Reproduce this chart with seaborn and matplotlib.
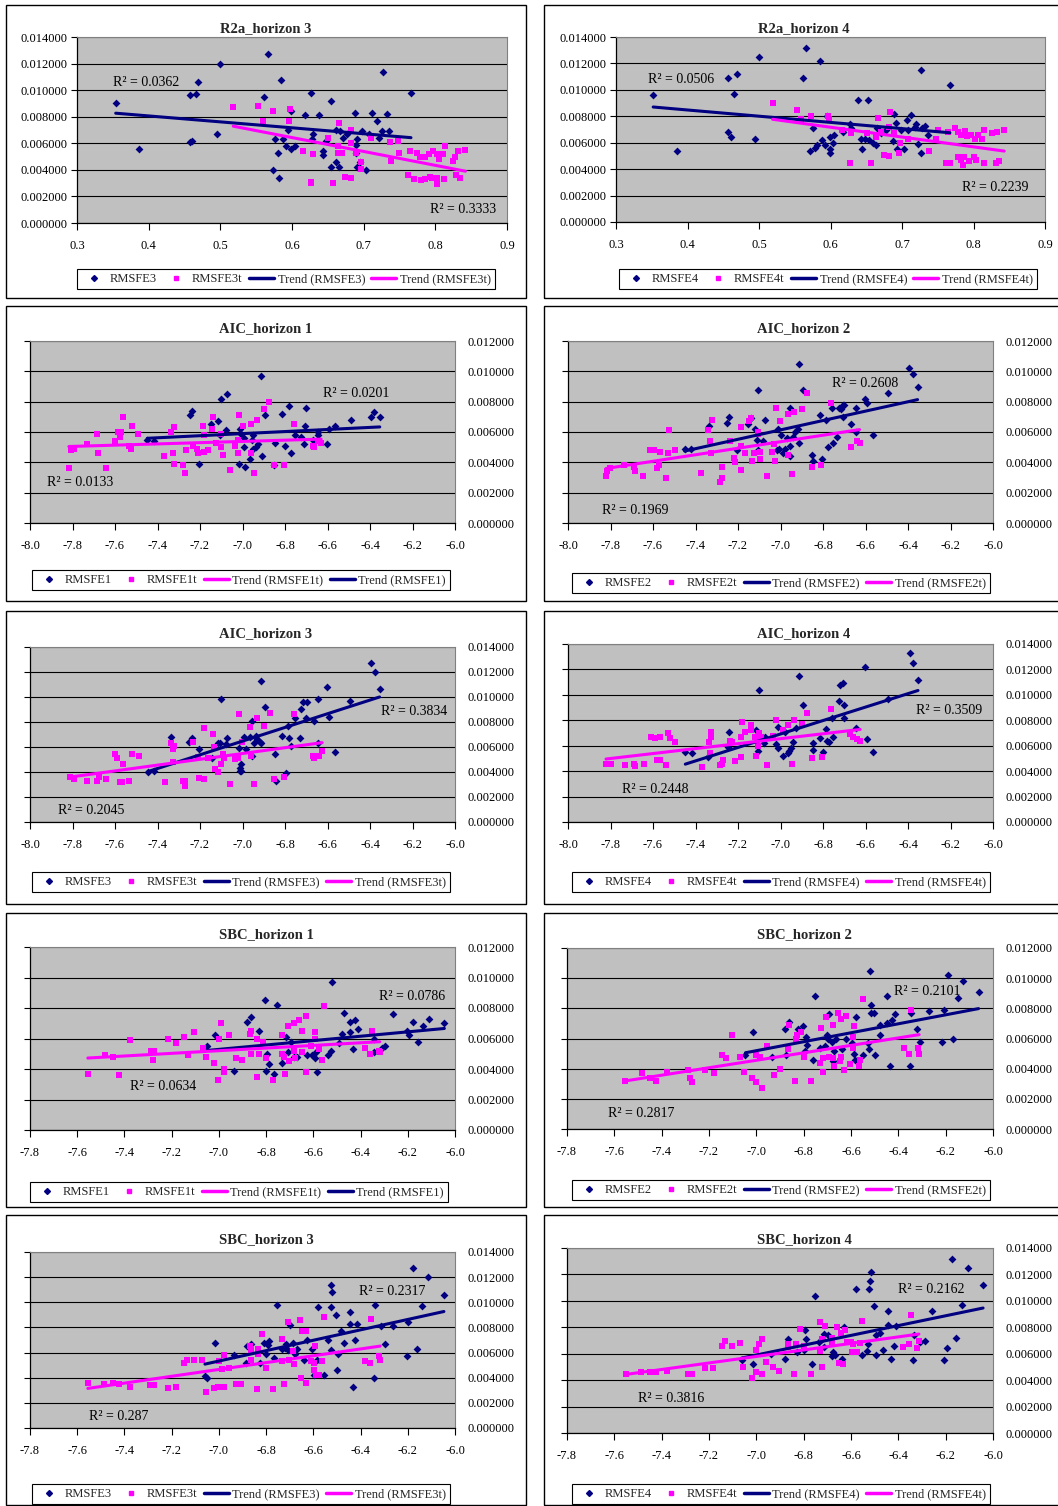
import numpy as np
import pandas as pd
import matplotlib
matplotlib.use('Agg')
import matplotlib.pyplot as plt
import seaborn as sns
from matplotlib.lines import Line2D
from matplotlib.patches import Rectangle
from matplotlib.ticker import FormatStrFormatter, MultipleLocator

W, H = 1058, 1506

# ---- data: (x, RMSFE) ----
r2a_h3 = [(0.354, 0.0090), (0.386, 0.0056), (0.458, 0.0096), (0.466, 0.0097), (0.469, 0.0106),
          (0.457, 0.0061), (0.461, 0.0062), (0.495, 0.0067), (0.500, 0.0120), (0.566, 0.0127),
          (0.561, 0.0095), (0.585, 0.0108), (0.627, 0.0098), (0.654, 0.0092), (0.599, 0.0084),
          (0.618, 0.0081), (0.638, 0.0081), (0.595, 0.0070), (0.576, 0.0063), (0.587, 0.0063),
          (0.591, 0.0058), (0.599, 0.0056), (0.604, 0.0058), (0.580, 0.0053), (0.573, 0.0040),
          (0.582, 0.0034), (0.629, 0.0067), (0.628, 0.0063), (0.643, 0.0054), (0.643, 0.0051),
          (0.648, 0.0062), (0.662, 0.0070), (0.667, 0.0069), (0.671, 0.0064), (0.677, 0.0067),
          (0.688, 0.0083), (0.689, 0.0059), (0.691, 0.0063), (0.689, 0.0053), (0.697, 0.0069),
          (0.707, 0.0067), (0.712, 0.0083), (0.718, 0.0077), (0.726, 0.0069), (0.722, 0.0064),
          (0.732, 0.0082), (0.735, 0.0069), (0.727, 0.0114), (0.766, 0.0098), (0.654, 0.0042),
          (0.662, 0.0046), (0.665, 0.0042), (0.691, 0.0042), (0.703, 0.0040), (0.695, 0.0046)]
r2a_h3t = [(0.518, 0.0087), (0.553, 0.0088), (0.573, 0.0084), (0.559, 0.0077), (0.597, 0.0086),
           (0.596, 0.0077), (0.616, 0.0054), (0.629, 0.0052), (0.626, 0.0031), (0.626, 0.0030),
           (0.657, 0.0030), (0.650, 0.0064), (0.665, 0.0075), (0.664, 0.0058), (0.670, 0.0053),
           (0.664, 0.0053), (0.674, 0.0035), (0.682, 0.0034), (0.683, 0.0070), (0.682, 0.0060),
           (0.689, 0.0053), (0.696, 0.0046), (0.696, 0.0041), (0.710, 0.0064), (0.737, 0.0061),
           (0.748, 0.0062), (0.738, 0.0047), (0.749, 0.0053), (0.764, 0.0054), (0.774, 0.0053),
           (0.778, 0.0050), (0.785, 0.0050), (0.791, 0.0052), (0.797, 0.0054), (0.803, 0.0052),
           (0.805, 0.0048), (0.810, 0.0052), (0.814, 0.0058), (0.825, 0.0047), (0.827, 0.0050),
           (0.831, 0.0054), (0.842, 0.0055), (0.762, 0.0036), (0.770, 0.0033), (0.780, 0.0032),
           (0.785, 0.0033), (0.792, 0.0035), (0.796, 0.0034), (0.802, 0.0029), (0.803, 0.0034),
           (0.812, 0.0033), (0.829, 0.0036), (0.834, 0.0034)]

r2a_h4 = [(0.352, 0.0096), (0.385, 0.0054), (0.457, 0.0109), (0.469, 0.0112), (0.465, 0.0097),
          (0.457, 0.0068), (0.461, 0.0064), (0.495, 0.0063), (0.500, 0.0125), (0.566, 0.0132),
          (0.561, 0.0109), (0.585, 0.0122), (0.638, 0.0092), (0.653, 0.0092), (0.595, 0.0080),
          (0.575, 0.0071), (0.572, 0.0054), (0.579, 0.0056), (0.581, 0.0058), (0.588, 0.0062),
          (0.592, 0.0058), (0.599, 0.0064), (0.605, 0.0066), (0.604, 0.0060), (0.599, 0.0055),
          (0.599, 0.0052), (0.617, 0.0068), (0.627, 0.0074), (0.628, 0.0071), (0.642, 0.0063),
          (0.648, 0.0063), (0.654, 0.0062), (0.644, 0.0055), (0.660, 0.0060), (0.664, 0.0058),
          (0.665, 0.0071), (0.671, 0.0067), (0.678, 0.0070), (0.689, 0.0082), (0.691, 0.0075),
          (0.688, 0.0061), (0.693, 0.0055), (0.699, 0.0070), (0.703, 0.0055), (0.707, 0.0077),
          (0.709, 0.0070), (0.712, 0.0081), (0.718, 0.0072), (0.720, 0.0074), (0.722, 0.0059),
          (0.726, 0.0052), (0.728, 0.0071), (0.732, 0.0073), (0.727, 0.0115), (0.736, 0.0066),
          (0.767, 0.0104)]
r2a_h4t = [(0.519, 0.0090), (0.553, 0.0085), (0.559, 0.0078), (0.573, 0.0080), (0.596, 0.0080),
           (0.598, 0.0078), (0.616, 0.0070), (0.627, 0.0045), (0.629, 0.0067), (0.657, 0.0045),
           (0.651, 0.0067), (0.666, 0.0079), (0.664, 0.0064), (0.670, 0.0068), (0.675, 0.0051),
           (0.682, 0.0050), (0.683, 0.0083), (0.682, 0.0072), (0.689, 0.0067), (0.696, 0.0052),
           (0.697, 0.0060), (0.709, 0.0063), (0.738, 0.0054), (0.748, 0.0063), (0.750, 0.0070),
           (0.761, 0.0045), (0.767, 0.0045), (0.765, 0.0068), (0.774, 0.0071), (0.778, 0.0068),
           (0.782, 0.0066), (0.788, 0.0069), (0.791, 0.0065), (0.797, 0.0066), (0.802, 0.0063),
           (0.806, 0.0066), (0.812, 0.0063), (0.815, 0.0070), (0.826, 0.0067), (0.833, 0.0068),
           (0.843, 0.0070), (0.778, 0.0049), (0.782, 0.0047), (0.787, 0.0049), (0.786, 0.0043),
           (0.794, 0.0046), (0.801, 0.0049), (0.804, 0.0047), (0.814, 0.0045), (0.831, 0.0045),
           (0.835, 0.0046)]

aic_h1 = [(-7.448, 0.0055), (-7.417, 0.0054), (-7.249, 0.0071), (-7.238, 0.0074), (-7.205, 0.0039),
          (-7.149, 0.0065), (-7.113, 0.0067), (-7.100, 0.0082), (-7.072, 0.0085), (-7.080, 0.0061),
          (-7.105, 0.0058), (-7.014, 0.0062), (-7.006, 0.0059), (-6.995, 0.0056), (-6.994, 0.0050),
          (-7.017, 0.0039), (-6.987, 0.0037), (-6.951, 0.0058), (-6.956, 0.0055), (-6.964, 0.0042),
          (-6.950, 0.0049), (-6.937, 0.0050), (-6.928, 0.0052), (-6.909, 0.0044), (-6.914, 0.0097),
          (-6.892, 0.0071), (-6.845, 0.0053), (-6.812, 0.0072), (-6.798, 0.0051), (-6.781, 0.0077),
          (-6.773, 0.0046), (-6.755, 0.0058), (-6.724, 0.0057), (-6.712, 0.0052), (-6.705, 0.0064),
          (-6.701, 0.0076), (-6.669, 0.0055), (-6.646, 0.0060), (-6.647, 0.0058), (-6.602, 0.0052),
          (-6.592, 0.0062), (-6.564, 0.0064), (-6.491, 0.0068), (-6.395, 0.0070), (-6.379, 0.0073),
          (-6.354, 0.0070), (-6.853, 0.0038)]
aic_h1t = [(-7.817, 0.0036), (-7.806, 0.0048), (-7.795, 0.0049), (-7.732, 0.0052), (-7.685, 0.0059),
           (-7.680, 0.0046), (-7.643, 0.0036), (-7.602, 0.0054), (-7.588, 0.0060), (-7.571, 0.0060),
           (-7.578, 0.0057), (-7.564, 0.0070), (-7.534, 0.0051), (-7.527, 0.0049), (-7.520, 0.0064),
           (-7.492, 0.0059), (-7.368, 0.0044), (-7.337, 0.0060), (-7.323, 0.0063), (-7.329, 0.0046),
           (-7.323, 0.0039), (-7.282, 0.0038), (-7.270, 0.0033), (-7.268, 0.0048), (-7.235, 0.0051),
           (-7.213, 0.0049), (-7.210, 0.0046), (-7.185, 0.0064), (-7.180, 0.0058), (-7.182, 0.0047),
           (-7.163, 0.0048), (-7.143, 0.0062), (-7.138, 0.0070), (-7.124, 0.0053), (-7.103, 0.0059),
           (-7.100, 0.0050), (-7.092, 0.0045), (-7.060, 0.0035), (-7.034, 0.0051), (-7.023, 0.0046),
           (-7.017, 0.0071), (-7.000, 0.0064), (-7.023, 0.0055), (-6.962, 0.0046), (-6.961, 0.0065),
           (-6.947, 0.0033), (-6.931, 0.0068), (-6.900, 0.0075), (-6.873, 0.0080), (-6.853, 0.0038),
           (-6.806, 0.0038), (-6.759, 0.0065), (-6.666, 0.0051), (-6.664, 0.0050), (-6.643, 0.0054),
           (-6.630, 0.0053)]

aic_h2 = [(-7.451, 0.0049), (-7.421, 0.0049), (-7.338, 0.0064), (-7.250, 0.0066), (-7.242, 0.0070),
          (-7.207, 0.0048), (-7.154, 0.0065), (-7.141, 0.0069), (-7.118, 0.0062), (-7.105, 0.0088),
          (-7.110, 0.0055), (-7.105, 0.0048), (-7.082, 0.0054), (-7.074, 0.0068), (-7.014, 0.0062),
          (-6.998, 0.0058), (-7.016, 0.0048), (-7.006, 0.0049), (-6.987, 0.0046), (-6.980, 0.0049),
          (-6.956, 0.0076), (-6.969, 0.0056), (-6.953, 0.0051), (-6.955, 0.0044), (-6.942, 0.0057),
          (-6.933, 0.0060), (-6.920, 0.0062), (-6.912, 0.0053), (-6.915, 0.0105), (-6.896, 0.0088),
          (-6.851, 0.0045), (-6.849, 0.0041), (-6.804, 0.0042), (-6.813, 0.0071), (-6.785, 0.0068),
          (-6.777, 0.0050), (-6.755, 0.0053), (-6.760, 0.0076), (-6.735, 0.0057), (-6.725, 0.0076),
          (-6.713, 0.0075), (-6.706, 0.0078), (-6.700, 0.0078), (-6.705, 0.0070), (-6.670, 0.0065),
          (-6.647, 0.0076), (-6.645, 0.0060), (-6.603, 0.0082), (-6.595, 0.0079), (-6.565, 0.0058),
          (-6.493, 0.0086), (-6.394, 0.0102), (-6.375, 0.0098), (-6.355, 0.0090)]
aic_h2t = [(-7.821, 0.0031), (-7.815, 0.0034), (-7.804, 0.0036), (-7.736, 0.0038), (-7.684, 0.0034),
           (-7.689, 0.0037), (-7.645, 0.0031), (-7.612, 0.0048), (-7.597, 0.0048), (-7.568, 0.0047),
           (-7.581, 0.0036), (-7.571, 0.0038), (-7.539, 0.0030), (-7.529, 0.0046), (-7.524, 0.0061),
           (-7.496, 0.0048), (-7.374, 0.0033), (-7.342, 0.0061), (-7.333, 0.0054), (-7.328, 0.0046),
           (-7.323, 0.0068), (-7.287, 0.0027), (-7.273, 0.0030), (-7.273, 0.0037), (-7.240, 0.0054),
           (-7.218, 0.0043), (-7.213, 0.0040), (-7.187, 0.0035), (-7.188, 0.0051), (-7.184, 0.0063),
           (-7.166, 0.0046), (-7.146, 0.0067), (-7.141, 0.0069), (-7.133, 0.0041), (-7.124, 0.0046),
           (-7.108, 0.0060), (-7.105, 0.0059), (-7.097, 0.0042), (-7.096, 0.0047), (-7.064, 0.0031),
           (-7.039, 0.0047), (-7.027, 0.0041), (-7.030, 0.0052), (-7.022, 0.0076), (-7.003, 0.0067),
           (-6.964, 0.0045), (-6.965, 0.0072), (-6.948, 0.0032), (-6.936, 0.0073), (-6.901, 0.0075),
           (-6.874, 0.0086), (-6.854, 0.0037), (-6.808, 0.0038), (-6.763, 0.0079), (-6.669, 0.0050),
           (-6.641, 0.0054), (-6.628, 0.0053)]

aic_h3 = [(-7.445, 0.0040), (-7.416, 0.0041), (-7.336, 0.0068), (-7.239, 0.0067), (-7.250, 0.0064),
          (-7.203, 0.0058), (-7.145, 0.0051), (-7.113, 0.0063), (-7.105, 0.0063), (-7.100, 0.0098),
          (-7.072, 0.0067), (-7.078, 0.0062), (-7.016, 0.0059), (-7.011, 0.0043), (-7.006, 0.0041),
          (-7.014, 0.0041), (-7.009, 0.0046), (-6.994, 0.0068), (-6.984, 0.0058), (-6.966, 0.0068),
          (-6.953, 0.0081), (-6.953, 0.0053), (-6.945, 0.0063), (-6.937, 0.0069), (-6.930, 0.0066),
          (-6.919, 0.0064), (-6.911, 0.0063), (-6.911, 0.0113), (-6.892, 0.0092), (-6.847, 0.0054),
          (-6.844, 0.0033), (-6.813, 0.0069), (-6.797, 0.0039), (-6.784, 0.0077), (-6.781, 0.0067),
          (-6.770, 0.0061), (-6.753, 0.0083), (-6.731, 0.0067), (-6.727, 0.0090), (-6.714, 0.0096),
          (-6.698, 0.0096), (-6.703, 0.0083), (-6.664, 0.0081), (-6.644, 0.0098), (-6.644, 0.0063),
          (-6.602, 0.0108), (-6.594, 0.0084), (-6.564, 0.0056), (-6.492, 0.0097), (-6.394, 0.0127),
          (-6.377, 0.0120), (-6.355, 0.0106)]
aic_h3t = [(-7.813, 0.0036), (-7.792, 0.0034), (-7.730, 0.0033), (-7.683, 0.0033), (-7.677, 0.0036),
           (-7.641, 0.0034), (-7.602, 0.0054), (-7.589, 0.0051), (-7.577, 0.0032), (-7.566, 0.0032),
           (-7.563, 0.0046), (-7.533, 0.0033), (-7.522, 0.0054), (-7.489, 0.0053), (-7.367, 0.0032),
           (-7.336, 0.0063), (-7.323, 0.0061), (-7.325, 0.0058), (-7.328, 0.0048), (-7.280, 0.0033),
           (-7.270, 0.0029), (-7.269, 0.0033), (-7.234, 0.0064), (-7.211, 0.0052), (-7.206, 0.0035),
           (-7.183, 0.0034), (-7.180, 0.0075), (-7.161, 0.0051), (-7.141, 0.0070), (-7.136, 0.0060),
           (-7.131, 0.0042), (-7.113, 0.0040), (-7.103, 0.0046), (-7.094, 0.0054), (-7.086, 0.0051),
           (-7.059, 0.0030), (-7.034, 0.0050), (-7.022, 0.0051), (-7.017, 0.0086), (-7.003, 0.0064),
           (-6.959, 0.0053), (-6.963, 0.0076), (-6.945, 0.0030), (-6.931, 0.0083), (-6.900, 0.0077),
           (-6.872, 0.0087), (-6.852, 0.0034), (-6.806, 0.0036), (-6.758, 0.0086), (-6.669, 0.0053),
           (-6.663, 0.0051), (-6.641, 0.0053), (-6.625, 0.0057)]

aic_h4 = [(-7.448, 0.0055), (-7.418, 0.0054), (-7.339, 0.0051), (-7.241, 0.0071), (-7.245, 0.0059),
          (-7.114, 0.0072), (-7.107, 0.0056), (-7.103, 0.0104), (-7.072, 0.0067), (-7.080, 0.0062),
          (-7.014, 0.0075), (-7.020, 0.0061), (-7.013, 0.0058), (-6.988, 0.0052), (-6.978, 0.0071),
          (-6.967, 0.0054), (-6.959, 0.0056), (-6.951, 0.0058), (-6.939, 0.0063), (-6.929, 0.0074),
          (-6.915, 0.0115), (-6.895, 0.0092), (-6.848, 0.0062), (-6.848, 0.0057), (-6.812, 0.0066),
          (-6.799, 0.0055), (-6.787, 0.0073), (-6.782, 0.0064), (-6.774, 0.0063), (-6.759, 0.0082),
          (-6.751, 0.0067), (-6.727, 0.0095), (-6.719, 0.0108), (-6.704, 0.0109), (-6.702, 0.0092),
          (-6.702, 0.0082), (-6.646, 0.0074), (-6.594, 0.0065), (-6.602, 0.0122), (-6.563, 0.0055),
          (-6.492, 0.0097), (-6.392, 0.0133), (-6.375, 0.0125), (-6.353, 0.0112)]
aic_h4t = [(-7.821, 0.0046), (-7.809, 0.0046), (-7.798, 0.0046), (-7.734, 0.0045), (-7.688, 0.0046),
           (-7.683, 0.0044), (-7.643, 0.0046), (-7.608, 0.0067), (-7.592, 0.0066), (-7.566, 0.0067),
           (-7.580, 0.0049), (-7.569, 0.0049), (-7.538, 0.0045), (-7.530, 0.0070), (-7.522, 0.0066),
           (-7.495, 0.0063), (-7.371, 0.0043), (-7.335, 0.0063), (-7.328, 0.0067), (-7.328, 0.0071),
           (-7.331, 0.0054), (-7.285, 0.0045), (-7.271, 0.0049), (-7.276, 0.0046), (-7.240, 0.0064),
           (-7.229, 0.0063), (-7.213, 0.0048), (-7.187, 0.0051), (-7.182, 0.0079), (-7.169, 0.0071),
           (-7.187, 0.0067), (-7.141, 0.0076), (-7.141, 0.0072), (-7.118, 0.0067), (-7.103, 0.0070),
           (-7.092, 0.0067), (-7.107, 0.0060), (-7.114, 0.0052), (-7.063, 0.0045), (-7.022, 0.0080),
           (-7.033, 0.0068), (-6.986, 0.0072), (-6.967, 0.0076), (-6.947, 0.0046), (-6.936, 0.0080),
           (-6.900, 0.0077), (-6.873, 0.0086), (-6.851, 0.0050), (-6.807, 0.0051), (-6.762, 0.0089),
           (-6.671, 0.0069), (-6.661, 0.0067), (-6.638, 0.0065), (-6.625, 0.0064)]

sbc_h1 = [(-7.050, 0.0055), (-7.016, 0.0062), (-6.938, 0.0039), (-6.880, 0.0071), (-6.865, 0.0074),
          (-6.828, 0.0065), (-6.804, 0.0085), (-6.796, 0.0050), (-6.801, 0.0039), (-6.789, 0.0043),
          (-6.765, 0.0037), (-6.753, 0.0082), (-6.734, 0.0044), (-6.714, 0.0061), (-6.708, 0.0051),
          (-6.696, 0.0058), (-6.683, 0.0048), (-6.670, 0.0048), (-6.628, 0.0049), (-6.604, 0.0049),
          (-6.593, 0.0047), (-6.589, 0.0051), (-6.586, 0.0038), (-6.536, 0.0049), (-6.525, 0.0052),
          (-6.522, 0.0097), (-6.491, 0.0057), (-6.480, 0.0063), (-6.469, 0.0077), (-6.445, 0.0064),
          (-6.445, 0.0071), (-6.423, 0.0072), (-6.433, 0.0053), (-6.412, 0.0066), (-6.342, 0.0060),
          (-6.342, 0.0051), (-6.308, 0.0054), (-6.297, 0.0055), (-6.261, 0.0076), (-6.202, 0.0065),
          (-6.195, 0.0062), (-6.177, 0.0071), (-6.158, 0.0058), (-6.137, 0.0068), (-6.110, 0.0073),
          (-6.045, 0.0070)]
sbc_h1t = [(-7.555, 0.0037), (-7.484, 0.0049), (-7.450, 0.0048), (-7.422, 0.0036), (-7.377, 0.0059),
           (-7.288, 0.0052), (-7.281, 0.0046), (-7.275, 0.0052), (-7.216, 0.0060), (-7.181, 0.0057),
           (-7.147, 0.0061), (-7.131, 0.0049), (-7.105, 0.0064), (-7.069, 0.0054), (-7.055, 0.0048),
           (-7.020, 0.0044), (-7.005, 0.0033), (-7.000, 0.0060), (-6.989, 0.0070), (-6.978, 0.0040),
           (-6.978, 0.0038), (-6.958, 0.0062), (-6.928, 0.0047), (-6.904, 0.0046), (-6.868, 0.0063),
           (-6.862, 0.0065), (-6.866, 0.0050), (-6.838, 0.0035), (-6.837, 0.0060), (-6.832, 0.0050),
           (-6.815, 0.0058), (-6.801, 0.0047), (-6.772, 0.0033), (-6.731, 0.0062), (-6.734, 0.0050),
           (-6.725, 0.0048), (-6.722, 0.0037), (-6.708, 0.0068), (-6.701, 0.0045), (-6.683, 0.0070),
           (-6.680, 0.0052), (-6.678, 0.0047), (-6.659, 0.0072), (-6.649, 0.0065), (-6.649, 0.0051),
           (-6.630, 0.0075), (-6.632, 0.0038), (-6.610, 0.0055), (-6.594, 0.0060), (-6.592, 0.0064),
           (-6.576, 0.0053), (-6.565, 0.0046), (-6.555, 0.0081), (-6.381, 0.0054), (-6.359, 0.0050),
           (-6.353, 0.0065), (-6.320, 0.0052), (-6.319, 0.0051)]

sbc_h2 = [(-7.046, 0.0049), (-7.013, 0.0064), (-6.935, 0.0048), (-6.876, 0.0049), (-6.877, 0.0066),
          (-6.862, 0.0071), (-6.823, 0.0066), (-6.801, 0.0068), (-6.796, 0.0052), (-6.791, 0.0061),
          (-6.785, 0.0056), (-6.762, 0.0046), (-6.751, 0.0088), (-6.730, 0.0054), (-6.710, 0.0055),
          (-6.701, 0.0062), (-6.697, 0.0060), (-6.692, 0.0076), (-6.682, 0.0058), (-6.676, 0.0045),
          (-6.672, 0.0052), (-6.663, 0.0060), (-6.638, 0.0053), (-6.621, 0.0060), (-6.597, 0.0057),
          (-6.589, 0.0050), (-6.584, 0.0046), (-6.577, 0.0074), (-6.551, 0.0049), (-6.529, 0.0057),
          (-6.522, 0.0053), (-6.519, 0.0105), (-6.517, 0.0082), (-6.517, 0.0077), (-6.504, 0.0077),
          (-6.498, 0.0049), (-6.478, 0.0062), (-6.476, 0.0069), (-6.449, 0.0070), (-6.449, 0.0088),
          (-6.437, 0.0042), (-6.428, 0.0072), (-6.414, 0.0076), (-6.350, 0.0042), (-6.348, 0.0077),
          (-6.322, 0.0066), (-6.307, 0.0058), (-6.272, 0.0078), (-6.216, 0.0058), (-6.208, 0.0079),
          (-6.190, 0.0102), (-6.170, 0.0060), (-6.149, 0.0087), (-6.125, 0.0098), (-6.061, 0.0091)]
sbc_h2t = [(-7.555, 0.0032), (-7.485, 0.0037), (-7.450, 0.0034), (-7.422, 0.0032), (-7.376, 0.0038),
           (-7.287, 0.0039), (-7.281, 0.0034), (-7.273, 0.0031), (-7.215, 0.0039), (-7.179, 0.0037),
           (-7.145, 0.0049), (-7.130, 0.0047), (-7.103, 0.0062), (-7.069, 0.0048), (-7.053, 0.0038),
           (-7.018, 0.0034), (-7.001, 0.0031), (-7.000, 0.0049), (-6.986, 0.0048), (-6.975, 0.0027),
           (-6.957, 0.0055), (-6.924, 0.0036), (-6.901, 0.0040), (-6.865, 0.0053), (-6.862, 0.0069),
           (-6.838, 0.0032), (-6.833, 0.0060), (-6.829, 0.0062), (-6.812, 0.0064), (-6.799, 0.0048),
           (-6.767, 0.0032), (-6.728, 0.0067), (-6.730, 0.0044), (-6.719, 0.0047), (-6.719, 0.0038),
           (-6.704, 0.0074), (-6.695, 0.0048), (-6.678, 0.0069), (-6.677, 0.0047), (-6.672, 0.0042),
           (-6.656, 0.0077), (-6.646, 0.0045), (-6.643, 0.0048), (-6.642, 0.0073), (-6.623, 0.0075),
           (-6.628, 0.0039), (-6.604, 0.0043), (-6.590, 0.0061), (-6.586, 0.0068), (-6.590, 0.0054),
           (-6.568, 0.0042), (-6.560, 0.0046), (-6.551, 0.0086), (-6.374, 0.0054), (-6.356, 0.0050),
           (-6.346, 0.0079), (-6.316, 0.0054), (-6.312, 0.0050)]

sbc_h3 = [(-7.059, 0.0041), (-7.050, 0.0040), (-7.015, 0.0068), (-6.937, 0.0058), (-6.884, 0.0052),
          (-6.882, 0.0065), (-6.866, 0.0067), (-6.826, 0.0052), (-6.808, 0.0068), (-6.802, 0.0059),
          (-6.794, 0.0066), (-6.787, 0.0069), (-6.765, 0.0056), (-6.754, 0.0098), (-6.734, 0.0063),
          (-6.720, 0.0064), (-6.716, 0.0067), (-6.709, 0.0062), (-6.698, 0.0082), (-6.688, 0.0068),
          (-6.678, 0.0059), (-6.668, 0.0063), (-6.641, 0.0054), (-6.627, 0.0070), (-6.605, 0.0063),
          (-6.596, 0.0042), (-6.586, 0.0054), (-6.579, 0.0096), (-6.554, 0.0042), (-6.537, 0.0070),
          (-6.526, 0.0114), (-6.522, 0.0108), (-6.526, 0.0096), (-6.527, 0.0062), (-6.505, 0.0090),
          (-6.495, 0.0059), (-6.499, 0.0046), (-6.484, 0.0077), (-6.472, 0.0068), (-6.446, 0.0092),
          (-6.446, 0.0083), (-6.434, 0.0033), (-6.424, 0.0070), (-6.413, 0.0083), (-6.343, 0.0040),
          (-6.340, 0.0098), (-6.312, 0.0081), (-6.297, 0.0067), (-6.262, 0.0081), (-6.203, 0.0057),
          (-6.199, 0.0084), (-6.178, 0.0127), (-6.159, 0.0063), (-6.138, 0.0097), (-6.114, 0.0120),
          (-6.047, 0.0106)]
sbc_h3t = [(-7.555, 0.0036), (-7.486, 0.0035), (-7.450, 0.0036), (-7.422, 0.0035), (-7.377, 0.0033),
           (-7.291, 0.0034), (-7.274, 0.0034), (-7.216, 0.0032), (-7.183, 0.0033), (-7.146, 0.0052),
           (-7.133, 0.0054), (-7.105, 0.0054), (-7.071, 0.0054), (-7.054, 0.0029), (-7.019, 0.0032),
           (-7.005, 0.0033), (-7.001, 0.0053), (-6.988, 0.0047), (-6.978, 0.0058), (-6.977, 0.0033),
           (-6.959, 0.0048), (-6.929, 0.0035), (-6.905, 0.0035), (-6.868, 0.0065), (-6.866, 0.0062),
           (-6.864, 0.0054), (-6.839, 0.0031), (-6.836, 0.0063), (-6.833, 0.0059), (-6.816, 0.0075),
           (-6.802, 0.0048), (-6.771, 0.0031), (-6.734, 0.0071), (-6.731, 0.0053), (-6.725, 0.0035),
           (-6.709, 0.0084), (-6.702, 0.0054), (-6.684, 0.0061), (-6.681, 0.0051), (-6.658, 0.0086),
           (-6.650, 0.0077), (-6.630, 0.0077), (-6.653, 0.0040), (-6.633, 0.0036), (-6.610, 0.0053),
           (-6.599, 0.0052), (-6.593, 0.0065), (-6.596, 0.0046), (-6.590, 0.0042), (-6.575, 0.0042),
           (-6.565, 0.0053), (-6.555, 0.0088), (-6.382, 0.0053), (-6.361, 0.0052), (-6.354, 0.0087),
           (-6.321, 0.0057), (-6.317, 0.0054)]

sbc_h4 = [(-7.062, 0.0055), (-7.013, 0.0052), (-6.939, 0.0060), (-6.877, 0.0056), (-6.865, 0.0071),
          (-6.827, 0.0061), (-6.800, 0.0063), (-6.794, 0.0078), (-6.790, 0.0071), (-6.766, 0.0052),
          (-6.754, 0.0104), (-6.735, 0.0069), (-6.724, 0.0071), (-6.713, 0.0075), (-6.714, 0.0065),
          (-6.696, 0.0074), (-6.682, 0.0058), (-6.675, 0.0061), (-6.668, 0.0059), (-6.639, 0.0056),
          (-6.628, 0.0080), (-6.580, 0.0109), (-6.555, 0.0059), (-6.531, 0.0062), (-6.527, 0.0067),
          (-6.524, 0.0109), (-6.520, 0.0115), (-6.517, 0.0122), (-6.504, 0.0096), (-6.496, 0.0059),
          (-6.494, 0.0074), (-6.476, 0.0076), (-6.465, 0.0063), (-6.445, 0.0092), (-6.442, 0.0082),
          (-6.431, 0.0056), (-6.417, 0.0066), (-6.408, 0.0081), (-6.338, 0.0055), (-6.332, 0.0074),
          (-6.308, 0.0069), (-6.289, 0.0070), (-6.256, 0.0092), (-6.206, 0.0055), (-6.194, 0.0064),
          (-6.172, 0.0132), (-6.158, 0.0072), (-6.132, 0.0097), (-6.107, 0.0125), (-6.042, 0.0112)]
sbc_h4t = [(-7.552, 0.0045), (-7.487, 0.0046), (-7.451, 0.0046), (-7.425, 0.0046), (-7.376, 0.0047),
           (-7.287, 0.0045), (-7.270, 0.0045), (-7.215, 0.0049), (-7.183, 0.0049), (-7.146, 0.0066),
           (-7.132, 0.0070), (-7.104, 0.0066), (-7.070, 0.0068), (-7.055, 0.0050), (-7.020, 0.0042),
           (-7.003, 0.0046), (-7.003, 0.0063), (-6.989, 0.0067), (-6.977, 0.0045), (-6.977, 0.0071),
           (-6.959, 0.0054), (-6.928, 0.0050), (-6.904, 0.0047), (-6.865, 0.0067), (-6.865, 0.0065),
           (-6.839, 0.0045), (-6.832, 0.0067), (-6.815, 0.0079), (-6.800, 0.0066), (-6.769, 0.0045),
           (-6.731, 0.0084), (-6.724, 0.0071), (-6.731, 0.0062), (-6.724, 0.0050), (-6.708, 0.0081),
           (-6.682, 0.0072), (-6.679, 0.0067), (-6.661, 0.0080), (-6.649, 0.0053), (-6.642, 0.0076),
           (-6.632, 0.0052), (-6.625, 0.0078), (-6.618, 0.0069), (-6.600, 0.0069), (-6.594, 0.0061),
           (-6.590, 0.0067), (-6.576, 0.0061), (-6.563, 0.0068), (-6.555, 0.0085), (-6.379, 0.0065),
           (-6.355, 0.0067), (-6.348, 0.0089), (-6.322, 0.0064), (-6.313, 0.0070)]

titles = ['R2a_horizon 3', 'R2a_horizon 4', 'AIC_horizon 1', 'AIC_horizon 2', 'AIC_horizon 3',
          'AIC_horizon 4', 'SBC_horizon 1', 'SBC_horizon 2', 'SBC_horizon 3', 'SBC_horizon 4']
series_names = [('RMSFE3', 'RMSFE3t'), ('RMSFE4', 'RMSFE4t'), ('RMSFE1', 'RMSFE1t'), ('RMSFE2', 'RMSFE2t'),
                ('RMSFE3', 'RMSFE3t'), ('RMSFE4', 'RMSFE4t'), ('RMSFE1', 'RMSFE1t'), ('RMSFE2', 'RMSFE2t'),
                ('RMSFE3', 'RMSFE3t'), ('RMSFE4', 'RMSFE4t')]
r2_labels = [('0.0362', '0.3333'), ('0.0506', '0.2239'), ('0.0201', '0.0133'), ('0.2608', '0.1969'),
             ('0.3834', '0.2045'), ('0.3509', '0.2448'), ('0.0786', '0.0634'), ('0.2101', '0.2817'),
             ('0.2317', '0.287'), ('0.2162', '0.3816')]
blue_data = [r2a_h3, r2a_h4, aic_h1, aic_h2, aic_h3, aic_h4, sbc_h1, sbc_h2, sbc_h3, sbc_h4]
pink_data = [r2a_h3t, r2a_h4t, aic_h1t, aic_h2t, aic_h3t, aic_h4t, sbc_h1t, sbc_h2t, sbc_h3t, sbc_h4t]

# ---- layout (pixels) ----
areas = [(77, 37, 507, 223), (616, 37, 1045, 222), (30, 341, 455, 523), (568, 341, 993, 523),
         (30, 647, 455, 822), (568, 644, 993, 822), (30, 947, 455, 1130), (567, 948, 993, 1129),
         (30, 1252, 455, 1428), (567, 1248, 993, 1433)]
row_y = [(5, 298), (306, 601), (611, 904), (913, 1207), (1215, 1505)]
col_x = [(6, 526), (544, 1064)]
title_y = [29, 329, 634, 935, 1240]
legend_c = [(286, 279), (828, 279), (241, 580), (781, 583), (241, 882),
            (781, 882), (239, 1192), (781, 1190), (241, 1494), (781, 1494)]
r2_pos = [((0.084, 0.753), (0.821, 0.075)), ((0.075, 0.768), (0.807, 0.184)),
          ((0.689, 0.714), (0.040, 0.220)), ((0.621, 0.764), (0.080, 0.071)),
          ((0.826, 0.634), (0.066, 0.063)), ((0.819, 0.624), (0.127, 0.185)),
          ((0.821, 0.727), (0.235, 0.240)), ((0.768, 0.757), (0.096, 0.088)),
          ((0.774, 0.778), (0.139, 0.0625)), ((0.777, 0.773), (0.167, 0.189))]

sns.set_theme(style='white')
plt.rcParams['font.family'] = ['Liberation Serif', 'DejaVu Serif']
plt.rcParams['axes.unicode_minus'] = False

NAVY = '#000080'
PINK = '#FF00FF'

fig = plt.figure(figsize=(W / 100, H / 100), dpi=100)

for i in range(10):
    row, col = divmod(i, 2)
    x0, y0, x1, y1 = areas[i]
    ax = fig.add_axes([x0 / W, 1 - y1 / H, (x1 - x0) / W, (y1 - y0) / H])
    ax.set_facecolor('#C0C0C0')

    df_b = pd.DataFrame(blue_data[i], columns=['x', 'y'])
    df_p = pd.DataFrame(pink_data[i], columns=['x', 'y'])

    sns.scatterplot(data=df_b, x='x', y='y', marker='D', color=NAVY, s=16, linewidth=0, ax=ax, legend=False, zorder=3)
    sns.scatterplot(data=df_p, x='x', y='y', marker='s', color=PINK, s=16, linewidth=0, ax=ax, legend=False, zorder=3)
    sns.regplot(data=df_b, x='x', y='y', scatter=False, ci=None, truncate=True, color=NAVY,
                line_kws={'lw': 2.2, 'zorder': 4}, ax=ax)
    sns.regplot(data=df_p, x='x', y='y', scatter=False, ci=None, truncate=True, color=PINK,
                line_kws={'lw': 2.2, 'zorder': 4}, ax=ax)
    ax.set_xlabel('')
    ax.set_ylabel('')

    if i < 2:
        ax.set_xlim(0.3, 0.9)
        ax.xaxis.set_major_locator(MultipleLocator(0.1))
    elif i < 6:
        ax.set_xlim(-8.0, -6.0)
        ax.xaxis.set_major_locator(MultipleLocator(0.2))
    else:
        ax.set_xlim(-7.8, -6.0)
        ax.xaxis.set_major_locator(MultipleLocator(0.2))
    ytop = 0.012 if i in (2, 3, 6, 7) else 0.014
    ax.set_ylim(0, ytop)
    ax.yaxis.set_major_locator(MultipleLocator(0.002))
    ax.xaxis.set_major_formatter(FormatStrFormatter('%.1f'))
    ax.yaxis.set_major_formatter(FormatStrFormatter('%.6f'))
    ax.grid(axis='y', color='black', lw=0.8)
    ax.grid(axis='x', visible=False)
    ax.set_axisbelow(True)

    for s in ('top', 'right'):
        ax.spines[s].set_color('#808080')
        ax.spines[s].set_linewidth(0.8)
    for s in ('left', 'bottom'):
        ax.spines[s].set_color('black')
        ax.spines[s].set_linewidth(0.9)

    ax.tick_params(axis='x', bottom=True, direction='out', length=5, width=0.8, color='black',
                   labelsize=9, pad=7, labelcolor='black')
    if i < 2:
        ax.tick_params(axis='y', left=True, direction='out', length=4, width=0.8, color='black',
                       labelsize=9, pad=3, labelcolor='black')
    else:
        ax.tick_params(axis='y', left=True, right=False, labelleft=False, labelright=True,
                       direction='out', length=4, width=0.8, color='black',
                       labelsize=9, pad=5, labelcolor='black')

    # R-squared labels
    for txt, pos in zip(r2_labels[i], r2_pos[i]):
        ax.text(pos[0], pos[1], 'R² = ' + txt, transform=ax.transAxes, ha='left', va='center',
                fontsize=10, color='black')

    # chart box and title
    bx0, bx1 = col_x[col]
    by0, by1 = row_y[row]
    fig.add_artist(Rectangle((bx0 / W, 1 - by1 / H), (bx1 - bx0) / W, (by1 - by0) / H,
                             transform=fig.transFigure, fill=False, ec='black', lw=1.0))
    fig.text(((bx0 + bx1) / 2) / W, 1 - title_y[row] / H, titles[i], ha='center', va='center',
             fontsize=10.5, fontweight='bold')

    # legend
    nb, npk = series_names[i]
    h_b = Line2D([], [], ls='none', marker='D', color=NAVY, markersize=3)
    h_p = Line2D([], [], ls='none', marker='s', color=PINK, markersize=3)
    t_b = Line2D([], [], color=NAVY, lw=2.5)
    t_p = Line2D([], [], color=PINK, lw=2.5)
    if i in (2, 6):
        handles = [h_b, h_p, t_p, t_b]
        labels = [nb, npk, f'Trend ({npk})', f'Trend ({nb})']
    else:
        handles = [h_b, h_p, t_b, t_p]
        labels = [nb, npk, f'Trend ({nb})', f'Trend ({npk})']
    cx, cy = legend_c[i]
    leg = fig.legend(handles, labels, loc='center', bbox_to_anchor=(cx / W, 1 - cy / H), ncol=4,
                     fontsize=9, frameon=True, fancybox=False, edgecolor='black', facecolor='white',
                     framealpha=1, handlelength=2.0, handletextpad=0.3, columnspacing=0.5,
                     borderpad=0.3, borderaxespad=0)
    leg.get_frame().set_linewidth(0.8)

fig.savefig('out.png', dpi=100)
